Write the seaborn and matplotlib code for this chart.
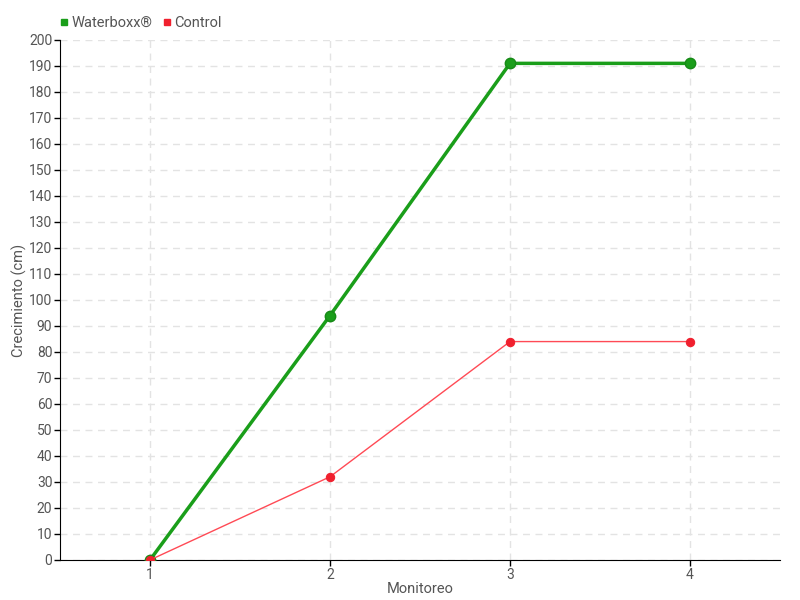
import pandas as pd
import matplotlib
matplotlib.use("Agg")
import matplotlib.pyplot as plt
import seaborn as sns
from matplotlib.lines import Line2D

# datos
monitoreo = ["1", "2", "3", "4"]
waterboxx = [0, 94, 191, 191]
control = [0, 32, 84, 84]

df = pd.DataFrame({
    "Monitoreo": monitoreo * 2,
    "Crecimiento": waterboxx + control,
    "Serie": ["Waterboxx®"] * 4 + ["Control"] * 4,
})

sns.set_style("white")
plt.rcParams['font.family'] = ['Roboto', 'DejaVu Sans']
gris = "#555555"
verde = "#1a9e1a"
rojo = "#f0202e"

fig = plt.figure(figsize=(8, 6), dpi=100)
ax = fig.add_axes([0.075, 0.0667, 0.9, 0.8667])

sns.lineplot(data=df[df.Serie == "Waterboxx®"], x="Monitoreo", y="Crecimiento",
             color=verde, linewidth=2.5, marker="o", markersize=7.5,
             markeredgecolor="#178a17", markeredgewidth=1, ax=ax, zorder=3)
sns.lineplot(data=df[df.Serie == "Control"], x="Monitoreo", y="Crecimiento",
             color="#ff4a55", linewidth=1, marker="o", markersize=6,
             markerfacecolor=rojo, markeredgecolor=rojo, ax=ax, zorder=4)

ax.set_xlim(-0.5, 3.5)
ax.set_ylim(0, 200)
ax.set_yticks(range(0, 201, 10))
ax.grid(True, color="#e3e3e3", linestyle=(0, (5, 4)), linewidth=1)
ax.set_axisbelow(True)
for s in ["top", "right"]:
    ax.spines[s].set_visible(False)
ax.spines["left"].set_color("black")
ax.spines["bottom"].set_color("black")
ax.tick_params(axis="both", direction="out", length=4, width=1, color="black",
               labelcolor=gris, labelsize=10, left=True, bottom=True, pad=1.5)
ax.set_xlabel("Monitoreo", color=gris, fontsize=10.5, labelpad=0)
ax.set_ylabel("Crecimiento (cm)", color=gris, fontsize=10.5)
ax.yaxis.set_label_coords(-0.046, 0.5)

handles = [Line2D([], [], linestyle="", marker="s", markersize=4.5, color=verde),
           Line2D([], [], linestyle="", marker="s", markersize=4.5, color=rojo)]
fig.legend(handles, ["Waterboxx®", "Control"], loc="upper left",
           bbox_to_anchor=(0.055, 0.995), ncol=2, frameon=False, fontsize=10.5,
           handletextpad=0.0, columnspacing=0.5, labelcolor=gris, handlelength=1)

plt.savefig("out.png", dpi=100)
